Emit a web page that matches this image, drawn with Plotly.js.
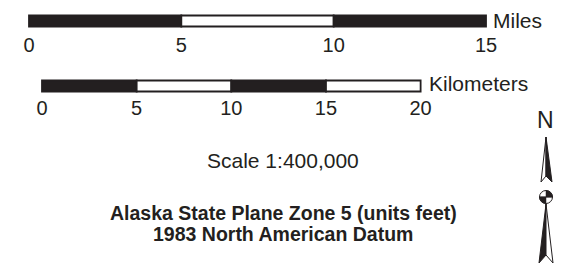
<!DOCTYPE html>
<html>
<head>
<meta charset="utf-8">
<script src="https://cdn.plot.ly/plotly-3.0.1.min.js"></script>
<style>
  html, body { margin: 0; padding: 0; background: #ffffff; }
  #chart { width: 572px; height: 275px; }
</style>
</head>
<body>
<div id="chart"></div>
<script>
// ---- data ----
const milesTicks = [0, 5, 10, 15];
const milesColors = ['#231f20', '#ffffff', '#231f20'];
const kmTicks = [0, 5, 10, 15, 20];
const kmColors = ['#231f20', '#ffffff', '#231f20', '#ffffff'];
const milesLabel = 'Miles';
const kmLabel = 'Kilometers';
const scaleText = 'Scale 1:400,000';
const titleLines = ['Alaska State Plane Zone 5 (units feet)', '1983 North American Datum'];
const northLabel = 'N';
const KM_PER_MILE = 1.609344;

// ---- layout constants (pixels) ----
const W = 572, H = 275;
const INK = '#231f20';
const FONT = 'Liberation Sans, Arial, Helvetica, sans-serif';
const milesX0 = 29, milesX15 = 486;          // pixel of 0 and 15 miles
const kmX0 = 42;                              // pixel of 0 km
const pxPerMile = (milesX15 - milesX0) / 15;
const pxPerKm = pxPerMile / KM_PER_MILE;
const milesRowY = 21, kmRowY = 86, barThick = 11;

function segs(ticks) {
  const base = [], len = [];
  for (let i = 0; i < ticks.length - 1; i++) { base.push(ticks[i]); len.push(ticks[i + 1] - ticks[i]); }
  return { base, len };
}
const ms = segs(milesTicks), ks = segs(kmTicks);

const traces = [
  {
    type: 'bar', orientation: 'h', xaxis: 'x', yaxis: 'y',
    base: ms.base, x: ms.len, y: ms.base.map(() => milesRowY), width: barThick,
    marker: { color: milesColors, line: { color: INK, width: 1.8 } },
    hoverinfo: 'skip'
  },
  {
    type: 'bar', orientation: 'h', xaxis: 'x2', yaxis: 'y',
    base: ks.base, x: ks.len, y: ks.base.map(() => kmRowY), width: barThick,
    marker: { color: kmColors, line: { color: INK, width: 1.8 } },
    hoverinfo: 'skip'
  }
];

// North arrow geometry (decoration, pixel space on x3/y)
const cx = 546, cy = 197, r = 6.5, k = 0.5523 * r;
const shapes = [
  { type: 'path', xref: 'x3', yref: 'y', path: `M${cx},137 L541,182 L${cx},176 Z`, fillcolor: '#ffffff', line: { color: INK, width: 1 } },
  { type: 'path', xref: 'x3', yref: 'y', path: `M${cx},137 L${cx},176 L552,182 Z`, fillcolor: INK, line: { color: INK, width: 1 } },
  { type: 'path', xref: 'x3', yref: 'y', path: `M${cx},204 L539,263 L${cx},255 Z`, fillcolor: INK, line: { color: INK, width: 1 } },
  { type: 'path', xref: 'x3', yref: 'y', path: `M${cx},204 L${cx},255 L553,263 Z`, fillcolor: '#ffffff', line: { color: INK, width: 1 } },
  { type: 'circle', xref: 'x3', yref: 'y', x0: cx - r, x1: cx + r, y0: cy - r, y1: cy + r, fillcolor: '#ffffff', line: { color: INK, width: 1 } },
  { type: 'path', xref: 'x3', yref: 'y', path: `M${cx},${cy} L${cx},${cy - r} C${cx + k},${cy - r} ${cx + r},${cy - k} ${cx + r},${cy} Z`, fillcolor: INK, line: { color: INK, width: 0.5 } },
  { type: 'path', xref: 'x3', yref: 'y', path: `M${cx},${cy} L${cx},${cy + r} C${cx - k},${cy + r} ${cx - r},${cy + k} ${cx - r},${cy} Z`, fillcolor: INK, line: { color: INK, width: 0.5 } },
  { type: 'line', xref: 'x3', yref: 'y', x0: cx - r, x1: cx + r, y0: cy, y1: cy, line: { color: INK, width: 1 } }
];

const annotations = [
  { xref: 'x', yref: 'y', x: milesTicks[milesTicks.length - 1], y: milesRowY - 1, text: milesLabel, showarrow: false,
    xanchor: 'left', yanchor: 'middle', xshift: 5, font: { family: FONT, size: 21, color: INK } },
  { xref: 'x2', yref: 'y', x: kmTicks[kmTicks.length - 1], y: kmRowY - 3, text: kmLabel, showarrow: false,
    xanchor: 'left', yanchor: 'middle', xshift: 6, font: { family: FONT, size: 21, color: INK } },
  { xref: 'x3', yref: 'y', x: 283, y: 160, text: scaleText, showarrow: false,
    xanchor: 'center', yanchor: 'middle', font: { family: FONT, size: 21, color: INK } },
  { xref: 'x3', yref: 'y', x: 283, y: 212.5, text: '<b>' + titleLines[0] + '</b>', showarrow: false,
    xanchor: 'center', yanchor: 'middle', font: { family: FONT, size: 19.5, color: INK } },
  { xref: 'x3', yref: 'y', x: 283, y: 234, text: '<b>' + titleLines[1] + '</b>', showarrow: false,
    xanchor: 'center', yanchor: 'middle', font: { family: FONT, size: 19.5, color: INK } },
  { xref: 'x3', yref: 'y', x: 545, y: 120, text: northLabel, showarrow: false,
    xanchor: 'center', yanchor: 'middle', font: { family: FONT, size: 23, color: INK } }
];

const layout = {
  width: W, height: H,
  margin: { l: 0, r: 0, t: 0, b: 0, pad: 0 },
  paper_bgcolor: '#ffffff', plot_bgcolor: '#ffffff',
  showlegend: false, barmode: 'overlay',
  font: { family: FONT, color: INK },
  xaxis: {
    range: [-milesX0 / pxPerMile, (W - milesX0) / pxPerMile],
    anchor: 'free', position: 1 - 31 / H,
    tickvals: milesTicks, ticktext: milesTicks.map(String),
    ticks: '', showline: false, showgrid: false, zeroline: false,
    tickfont: { family: FONT, size: 20, color: INK }, fixedrange: true
  },
  xaxis2: {
    range: [-kmX0 / pxPerKm, (W - kmX0) / pxPerKm],
    overlaying: 'x', anchor: 'free', position: 1 - 94 / H, side: 'bottom',
    tickvals: kmTicks, ticktext: kmTicks.map(String),
    ticks: '', showline: false, showgrid: false, zeroline: false,
    tickfont: { family: FONT, size: 20, color: INK }, fixedrange: true
  },
  xaxis3: { range: [0, W], overlaying: 'x', visible: false, fixedrange: true },
  yaxis: { range: [H, 0], visible: false, fixedrange: true },
  shapes: shapes,
  annotations: annotations
};

Plotly.newPlot('chart', traces, layout, { displayModeBar: false, staticPlot: true });
</script>
</body>
</html>
